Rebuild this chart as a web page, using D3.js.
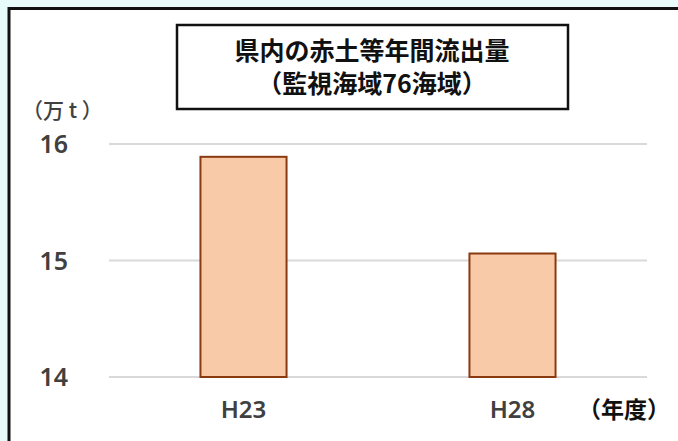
<!DOCTYPE html>
<html lang="ja">
<head>
<meta charset="utf-8">
<title>県内の赤土等年間流出量</title>
<script src="https://d3js.org/d3.v7.min.js"></script>
<style>
  html, body { margin: 0; padding: 0; background: #e8fbfb; }
  svg { display: block; }
</style>
</head>
<body>
<svg id="chart" width="678" height="441"></svg>
<script>
// データ
var years = ["H23", "H28"];
var outflow = [15.89, 15.06];   // 万t
var yTicks = [14, 15, 16];
var titleLines = ["県内の赤土等年間流出量", "（監視海域76海域）"];

var svg = d3.select("#chart");
var W = 678, H = 441;
var font = "'Noto Sans CJK JP', 'Noto Sans', sans-serif";
var numFont = "'Noto Sans', 'DejaVu Sans', sans-serif";

// 白い台紙と黒枠（左・上）
svg.append("rect").attr("x", 9).attr("y", 8).attr("width", W - 9).attr("height", H - 8).attr("fill", "#fff");
svg.append("line").attr("x1", 9).attr("x2", 9).attr("y1", 7).attr("y2", H)
   .attr("stroke", "#111").attr("stroke-width", 3);
svg.append("line").attr("x1", 8).attr("x2", W).attr("y1", 8.5).attr("y2", 8.5)
   .attr("stroke", "#111").attr("stroke-width", 3);

// スケール
var x = d3.scaleBand().domain(years).range([109, 647]).padding(0);
var y = d3.scaleLinear().domain([14, 16]).range([377, 144]);
var barW = x.bandwidth() * 0.32;

// 目盛り線
svg.append("g").selectAll("line").data(yTicks).join("line")
   .attr("x1", 109).attr("x2", 647)
   .attr("y1", function(d){ return y(d); }).attr("y2", function(d){ return y(d); })
   .attr("stroke", "#d9d9d9").attr("stroke-width", 2);

// 棒
svg.append("g").selectAll("rect").data(years).join("rect")
   .attr("x", function(d){ return x(d) + x.bandwidth() / 2 - barW / 2; })
   .attr("y", function(d, i){ return y(outflow[i]); })
   .attr("width", barW)
   .attr("height", function(d, i){ return y(14) - y(outflow[i]); })
   .attr("fill", "#f9caa7")
   .attr("stroke", "#8a3a10").attr("stroke-width", 2);

// 縦軸ラベル
var yAxis = d3.axisLeft(y).tickValues(yTicks).tickFormat(d3.format("d")).tickSize(0).tickPadding(0);
var gy = svg.append("g").attr("transform", "translate(68,0)").call(yAxis);
gy.select(".domain").remove();
gy.selectAll("text").attr("font-family", numFont).attr("font-size", 25)
  .attr("font-weight", 600).attr("fill", "#404040").attr("dy", "0.35em");

// 横軸ラベル
var xAxis = d3.axisBottom(x).tickSize(0).tickPadding(0);
var gx = svg.append("g").attr("transform", "translate(0,410)").call(xAxis);
gx.select(".domain").remove();
gx.selectAll("text").attr("font-family", numFont).attr("font-size", 24)
  .attr("font-weight", 600).attr("fill", "#404040").attr("dy", "0.35em");

// 単位
svg.append("text").attr("x", 22).attr("y", 111).attr("dy", "0.35em")
   .attr("font-family", font).attr("font-size", 21).attr("font-weight", 500)
   .attr("fill", "#404040").text("（万 t ）");
svg.append("text").attr("x", 578).attr("y", 410).attr("dy", "0.35em")
   .attr("font-family", font).attr("font-size", 23).attr("font-weight", "bold")
   .attr("fill", "#111").text("（年度）");

// タイトル枠
svg.append("rect").attr("x", 177).attr("y", 25).attr("width", 391).attr("height", 84)
   .attr("fill", "#fff").attr("stroke", "#111").attr("stroke-width", 2.5);
svg.append("g").selectAll("text").data(titleLines).join("text")
   .attr("x", 372).attr("y", function(d, i){ return 51 + i * 33; })
   .attr("dy", "0.35em").attr("text-anchor", "middle")
   .attr("font-family", font).attr("font-size", 25).attr("font-weight", "bold")
   .attr("fill", "#111").text(function(d){ return d; });
</script>
</body>
</html>
